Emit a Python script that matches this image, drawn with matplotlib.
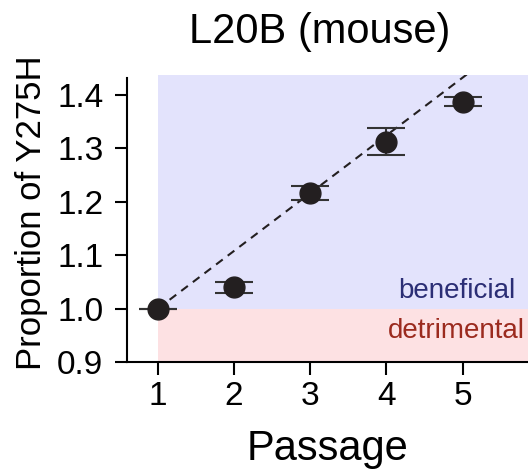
import numpy as np
import matplotlib.pyplot as plt

plt.rcParams['font.family'] = ['Liberation Sans', 'DejaVu Sans']

# values
passage = [1, 2, 3, 4, 5]
proportion = [1.0, 1.040, 1.216, 1.312, 1.387]
error = [0.0, 0.010, 0.013, 0.025, 0.008]
fit_start = 1.0
fit_slope = 0.108

fig = plt.figure(figsize=(5.28, 4.71), dpi=100)
ax = fig.add_axes([0.2405, 0.2314, 0.7595, 0.6093])

# shaded zones, only right of passage 1
ax.fill_between([1, 7], 1.0, 1.5, color='#E3E3FC', lw=0, zorder=0)
ax.fill_between([1, 7], 0.8, 1.0, color='#FDE1E3', lw=0, zorder=0)

# dashed trend line
xx = np.array([1, 6])
ax.plot(xx, fit_start + fit_slope * (xx - 1), ls=(0, (4, 3)), color='#231F20', lw=1.5, zorder=2)

ax.errorbar(passage, proportion, yerr=error, fmt='o', color='#231F20', ms=15,
            ecolor='#333333', elinewidth=1.5, capsize=14, capthick=1.5, zorder=3)

ax.text(4.92, 1.020, 'beneficial', color='#2B2E75', fontsize=20, ha='center', va='baseline')
ax.text(4.92, 0.945, 'detrimental', color='#9B2A1E', fontsize=20, ha='center', va='baseline')

ax.set_xlim(0.593, 5.86)
ax.set_ylim(0.9, 1.437)
ax.set_xticks(passage)
ax.set_yticks([0.9, 1.0, 1.1, 1.2, 1.3, 1.4])
ax.set_yticklabels(['0.9', '1.0', '1.1', '1.2', '1.3', '1.4'])
ax.tick_params(labelsize=24, width=1.5, length=9, color='black')
ax.tick_params(axis='x', pad=5)
ax.tick_params(axis='y', pad=8)
ax.spines['top'].set_visible(False)
ax.spines['right'].set_visible(False)
ax.spines['left'].set_linewidth(1.5)
ax.spines['bottom'].set_linewidth(1.5)
ax.spines['left'].set_bounds(0.9, 1.432)

ax.set_xlabel('Passage', fontsize=30, labelpad=12)
ax.set_ylabel('Proportion of Y275H', fontsize=25)
ax.yaxis.set_label_coords(-0.197, 0.52)
ax.set_title('L20B (mouse)', fontsize=30, x=0.48, pad=23)

fig.savefig('out.png', dpi=100)
